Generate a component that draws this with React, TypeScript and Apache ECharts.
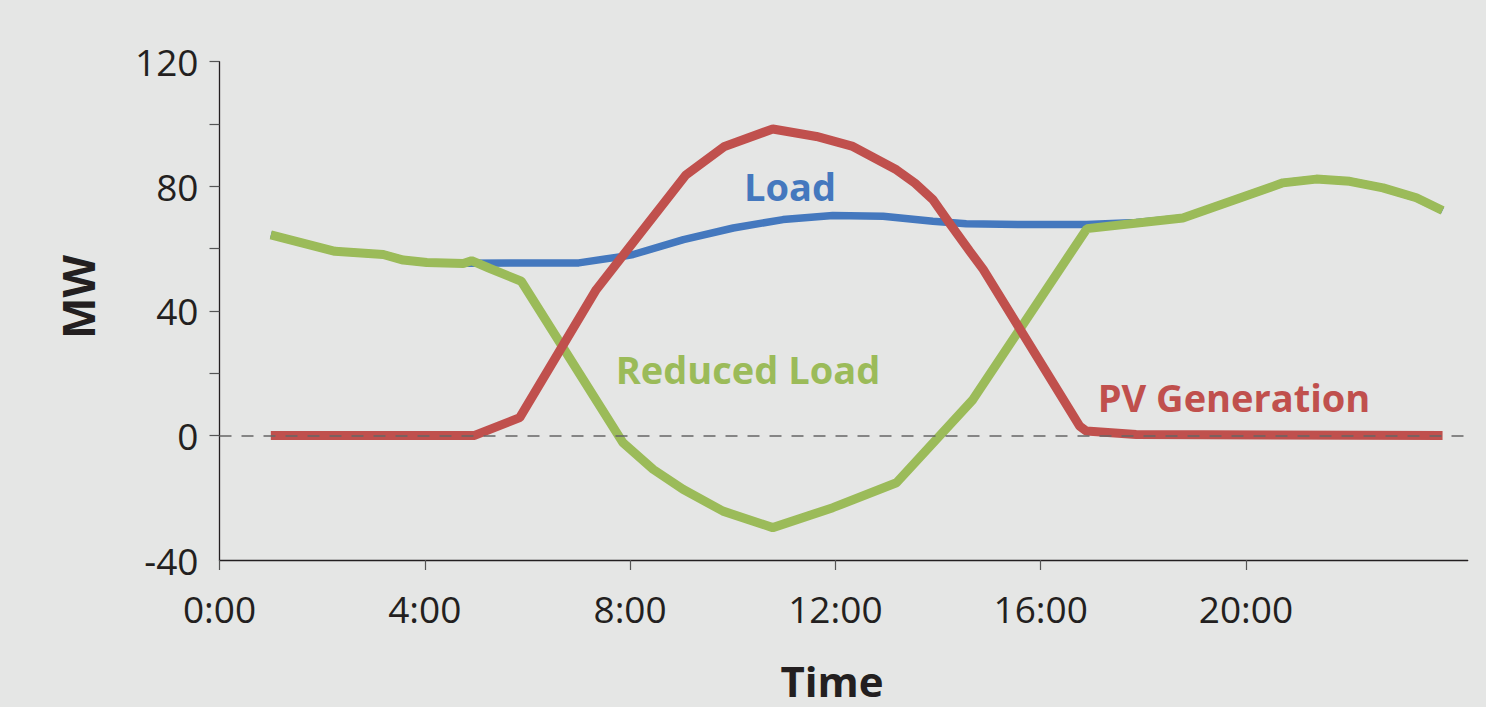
import React, { useEffect, useRef } from "react";
import * as echarts from "echarts";

// Time axis (hours) and tick labels
const xTickHours = [0, 4, 8, 12, 16, 20];
const yTickValues = [0, 20, 40, 60, 80, 100, 120];

// Load (MW)
const loadHours = [1.0, 2.25, 3.19, 3.58, 4.04, 4.75, 7.0, 7.86, 8.06, 9.04, 10.01, 10.98, 11.95, 12.93, 13.9, 14.55, 15.59, 16.9, 17.86, 18.77, 20.72, 21.37, 22.02, 22.67, 23.32, 23.83];
const loadMW = [64.4, 59.1, 58.1, 56.3, 55.5, 55.3, 55.4, 57.5, 58.1, 62.9, 66.6, 69.3, 70.6, 70.4, 68.8, 68.0, 67.7, 67.7, 68.4, 69.8, 81.1, 82.3, 81.6, 79.5, 76.3, 72.2];

// Reduced Load (MW)
const reducedHours = [1.0, 2.25, 3.19, 3.58, 4.04, 4.75, 4.91, 5.27, 5.88, 7.86, 8.45, 9.03, 9.81, 10.78, 11.95, 13.19, 14.68, 15.59, 16.9, 18.77, 20.72, 21.37, 22.02, 22.67, 23.32, 23.83];
const reducedMW = [64.4, 59.1, 58.1, 56.3, 55.5, 55.2, 56.1, 53.6, 49.5, -2.3, -10.9, -17.3, -24.3, -29.6, -23.2, -15.2, 11.5, 34, 66.4, 69.8, 81.1, 82.3, 81.6, 79.5, 76.3, 72.2];

// PV Generation (MW)
const pvHours = [1.0, 4.97, 5.85, 7.34, 9.09, 9.84, 10.78, 11.63, 12.34, 13.19, 13.55, 13.9, 14.25, 14.62, 14.88, 16.76, 16.89, 17.86, 23.83];
const pvMW = [0, 0, 5.7, 46.8, 83.7, 92.8, 98.4, 96, 92.8, 85.3, 81.0, 75.7, 67.5, 59.1, 53.3, 3.0, 1.4, 0.3, 0];

const zip = (xs: number[], ys: number[]) => xs.map((x, i) => [x, ys[i]]);

const FONT = "'Open Sans', 'Noto Sans', sans-serif";
const INK = "#231f20";
const BLUE = "#4478be";
const GREEN = "#9bbb59";
const RED = "#c0504d";

export default function App() {
  const ref = useRef<HTMLDivElement>(null);

  useEffect(() => {
    if (!ref.current) return;
    const chart = echarts.init(ref.current, undefined, { renderer: "svg" });
    chart.setOption({
      animation: false,
      backgroundColor: "#e5e6e5",
      grid: { left: 219.5, right: 18.3, top: 61.7, bottom: 147, containLabel: false },
      xAxis: {
        type: "value",
        min: 0,
        max: 24.32,
        interval: 4,
        axisLine: { show: true, onZero: false, lineStyle: { color: INK, width: 1.3 } },
        axisTick: { show: true, length: 10, inside: false, customValues: xTickHours, lineStyle: { color: "#555", width: 1.2 } },
        axisLabel: {
          customValues: xTickHours,
          formatter: (v: number) => `${v}:00`,
          color: INK,
          fontFamily: FONT,
          fontSize: 37,
          margin: 30,
        },
        splitLine: { show: false },
      },
      yAxis: {
        type: "value",
        min: -40,
        max: 120,
        interval: 40,
        axisLine: { show: true, onZero: false, lineStyle: { color: INK, width: 1.3 } },
        axisTick: { show: true, length: 10, customValues: yTickValues, lineStyle: { color: "#555", width: 1.2 } },
        axisLabel: { color: INK, fontFamily: FONT, fontSize: 37, margin: 21 },
        splitLine: { show: false },
      },
      series: [
        {
          name: "Load",
          type: "line",
          data: zip(loadHours, loadMW),
          showSymbol: false,
          z: 2,
          lineStyle: { color: BLUE, width: 7.5 },
          markLine: {
            silent: true,
            symbol: ["none", "none"],
            label: { show: false },
            lineStyle: { color: "#666", type: [12, 10], width: 1.5 },
            data: [{ yAxis: 0 }],
          },
        },
        {
          name: "Reduced Load",
          type: "line",
          data: zip(reducedHours, reducedMW),
          showSymbol: false,
          z: 3,
          lineStyle: { color: GREEN, width: 9 },
        },
        {
          name: "PV Generation",
          type: "line",
          data: zip(pvHours, pvMW),
          showSymbol: false,
          z: 4,
          lineStyle: { color: RED, width: 9 },
        },
      ],
      graphic: [
        { type: "text", x: 790, y: 186, style: { text: "Load", fill: BLUE, font: `bold 38px ${FONT}`, textAlign: "center", textVerticalAlign: "middle" } },
        { type: "text", x: 748, y: 369, style: { text: "Reduced Load", fill: GREEN, font: `bold 38px ${FONT}`, textAlign: "center", textVerticalAlign: "middle" } },
        { type: "text", x: 1234, y: 397, style: { text: "PV Generation", fill: RED, font: `bold 38px ${FONT}`, textAlign: "center", textVerticalAlign: "middle" } },
        { type: "text", x: 78, y: 297, rotation: Math.PI / 2, style: { text: "MW", fill: INK, font: `bold 44px ${FONT}`, textAlign: "center", textVerticalAlign: "middle" } },
        { type: "text", x: 832, y: 680, style: { text: "Time", fill: INK, font: `bold 42px ${FONT}`, textAlign: "center", textVerticalAlign: "middle" } },
      ],
    });
    return () => chart.dispose();
  }, []);

  return <div ref={ref} style={{ position: "absolute", left: 0, top: 0, width: 1486, height: 707 }} />;
}
